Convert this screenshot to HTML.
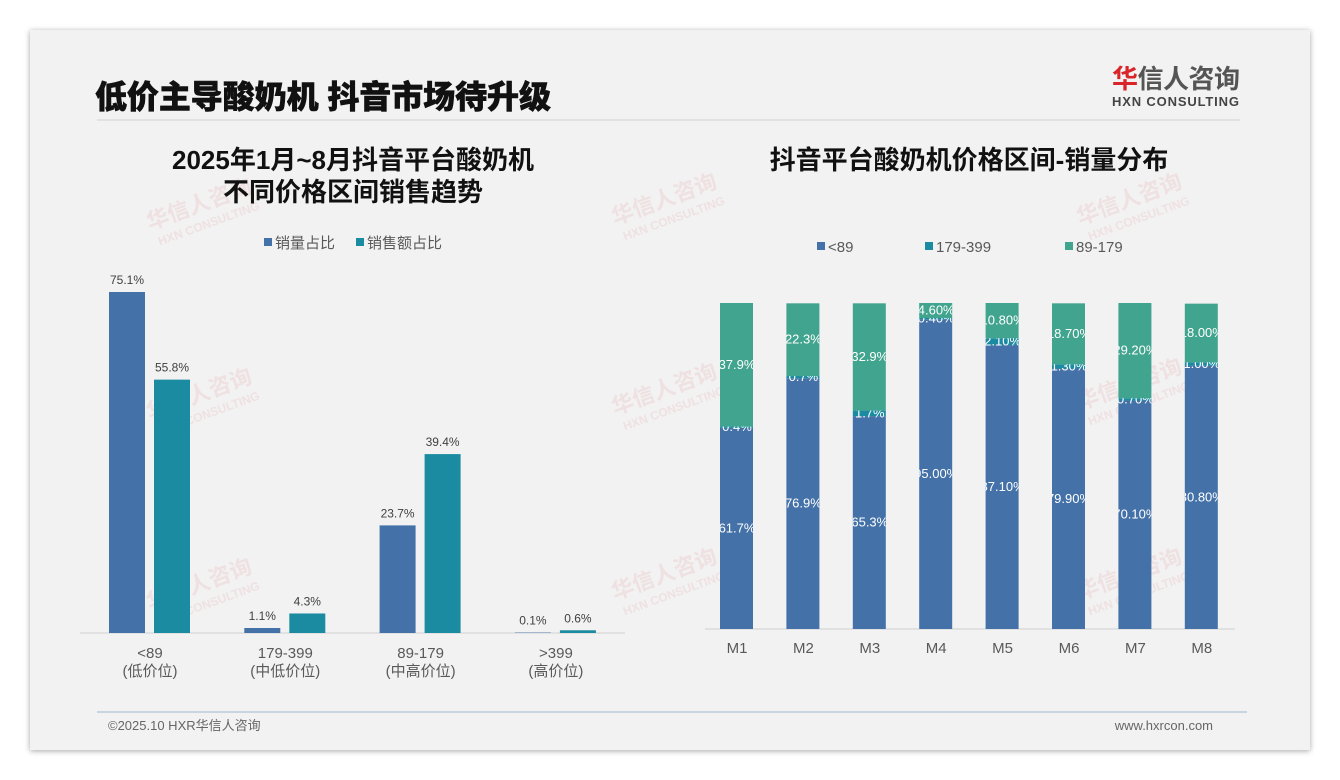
<!DOCTYPE html>
<html><head><meta charset="utf-8"><style>
html,body{margin:0;padding:0;background:#fff;width:1340px;height:780px;overflow:hidden}
svg{display:block;font-family:"Liberation Sans","Noto Sans CJK SC",sans-serif}
</style></head><body>
<svg id="s" width="1340" height="780" viewBox="0 0 1340 780">
<defs><filter id="sh" x="-5%" y="-5%" width="110%" height="110%"><feDropShadow dx="0" dy="1" stdDeviation="3" flood-color="#000" flood-opacity="0.35"/></filter></defs>
<rect x="30" y="30" width="1280" height="720" fill="#f2f2f2" filter="url(#sh)"/>
<g id="wm" fill="#e8b8b8" opacity="0.3" font-size="22" font-weight="bold"></g>
<text x="95" y="108" font-size="32" font-weight="900" fill="#111" stroke="#111" stroke-width="0.6" textLength="456">低价主导酸奶机 抖音市场待升级</text>
<line x1="97" y1="120" x2="1240" y2="120" stroke="#dcdcdc" stroke-width="1.5"/>
<g>
<text x="1112" y="88" font-size="26" font-weight="bold" fill="#555" textLength="128"><tspan fill="#d9252a">华</tspan>信人咨询</text>
<text x="1112" y="106" font-size="13" font-weight="bold" fill="#444" textLength="127">HXN CONSULTING</text>
</g>
<text x="353" y="169" font-size="26" font-weight="bold" text-anchor="middle" fill="#111">2025年1月~8月抖音平台酸奶机</text>
<text x="353" y="201" font-size="26" font-weight="bold" text-anchor="middle" fill="#111">不同价格区间销售趋势</text>
<text x="969" y="169" font-size="26" font-weight="bold" text-anchor="middle" fill="#111">抖音平台酸奶机价格区间-销量分布</text>
<g>
<rect x="264" y="238" width="8" height="8" fill="#4472a8"/><text x="275" y="248" font-size="15" fill="#595959">销量占比</text>
<rect x="356" y="238" width="8" height="8" fill="#1a8ba0"/><text x="367" y="248" font-size="15" fill="#595959">销售额占比</text>
</g>
<g>
<rect x="817" y="242" width="8" height="8" fill="#4472a8"/><text x="828" y="252" font-size="15" fill="#595959">&lt;89</text>
<rect x="925" y="242" width="8" height="8" fill="#1a8ba0"/><text x="936" y="252" font-size="15" fill="#595959">179-399</text>
<rect x="1065" y="242" width="8" height="8" fill="#41a48e"/><text x="1076" y="252" font-size="15" fill="#595959">89-179</text>
</g>
<g id="left"></g>
<g id="right"></g>
<line x1="97" y1="712" x2="1247" y2="712" stroke="#9fb6cc" stroke-width="1"/>
<text x="108" y="730" font-size="13" fill="#666">©2025.10 HXR华信人咨询</text>
<text x="1213" y="730" font-size="13" fill="#666" text-anchor="end">www.hxrcon.com</text>
</svg>
<script>
const NS="http://www.w3.org/2000/svg";
const leftCats=["<89","179-399","89-179",">399"];
const leftSub=["(低价位)","(中低价位)","(中高价位)","(高价位)"];
const volShare=[75.1,1.1,23.7,0.1];
const valShare=[55.8,4.3,39.4,0.6];
const months=["M1","M2","M3","M4","M5","M6","M7","M8"];
const lowSeries=[61.7,76.9,65.3,95.0,87.1,79.9,70.1,80.8];
const midLowSeries=[0.4,0.7,1.7,0.4,2.1,1.3,0.7,1.0];
const midHighSeries=[37.9,22.3,32.9,4.6,10.8,18.7,29.2,18.0];
const lowLabels=["61.7%","76.9%","65.3%","95.00%","87.10%","79.90%","70.10%","80.80%"];
const midLowLabels=["0.4%","0.7%","1.7%","0.40%","2.10%","1.30%","0.70%","1.00%"];
const midHighLabels=["37.9%","22.3%","32.9%","4.60%","10.80%","18.70%","29.20%","18.00%"];
function el(t,a,p){const e=document.createElementNS(NS,t);for(const k in a)e.setAttribute(k,a[k]);p.appendChild(e);return e;}
const wm=document.getElementById('wm');
[[150,230],[615,225],[1080,225],[150,420],[615,415],[1080,410],[150,610],[615,600],[1080,600]].forEach(p=>{
 const g=el('g',{transform:`translate(${p[0]},${p[1]}) rotate(-20)`},wm);
 const t=el('text',{x:0,y:0},g);t.textContent="华信人咨询";
 const t2=el('text',{x:4,y:18,'font-size':12},g);t2.textContent="HXN CONSULTING";
});
const L=document.getElementById('left');
const base=633, pxPer=341/75.1;
const ly=v=>base-v*pxPer;
const gx=i=>150+i*135.3;
el('line',{x1:80,y1:base,x2:625,y2:base,stroke:'#d0d0d0'},L);
leftCats.forEach((c,i)=>{
 const cx=gx(i);
 [[volShare,'#4472a8',-41],[valShare,'#1a8ba0',4]].forEach(([arr,col,off],k)=>{
  const r=el('rect',{x:cx+off,y:ly(arr[i]),width:36,height:base-ly(arr[i]),fill:col},L);
  
  
  const t=el('text',{x:cx+off+18,y:ly(arr[i])-8,'font-size':12,'text-anchor':'middle',fill:'#404040'},L);
  t.textContent=arr[i].toFixed(1)+"%";
  
  
 });
 const a=el('text',{x:cx,y:658,'font-size':15,'text-anchor':'middle',fill:'#595959'},L);a.textContent=c;
 
 
 const b=el('text',{x:cx,y:676,'font-size':15,'text-anchor':'middle',fill:'#595959'},L);b.textContent=leftSub[i];
 
 
});
const R=document.getElementById('right');
const rb=629, rh=326;
const ry=v=>v*rh/100;
const mx=i=>737+i*66.4;
el('line',{x1:705,y1:rb,x2:1235,y2:rb,stroke:'#d0d0d0'},R);
const defs=el('defs',{},R);
months.forEach((m,i)=>{
 const x=mx(i)-17, w=33;
 const cp=el('clipPath',{id:'c'+i},defs);el('rect',{x:x,y:0,width:w,height:800},cp);
 let y=rb;
 [[lowSeries,lowLabels,'#4472a8','low'],[midLowSeries,midLowLabels,'#1a8ba0','midlow'],[midHighSeries,midHighLabels,'#41a48e','midhigh']].forEach(([arr,labs,col,nm])=>{
  const h=ry(arr[i]);y-=h;
  const r=el('rect',{x:x,y:y,width:w,height:h,fill:col},R);
  
  
  const t=el('text',{x:mx(i),y:y+h/2+4,'font-size':13,'text-anchor':'middle',fill:'#fff','clip-path':`url(#c${i})`},R);
  t.textContent=labs[i];
  
  
 });
 const a=el('text',{x:mx(i),y:653,'font-size':15,'text-anchor':'middle',fill:'#595959'},R);a.textContent=m;
 
 
});
</script>
</body></html>
